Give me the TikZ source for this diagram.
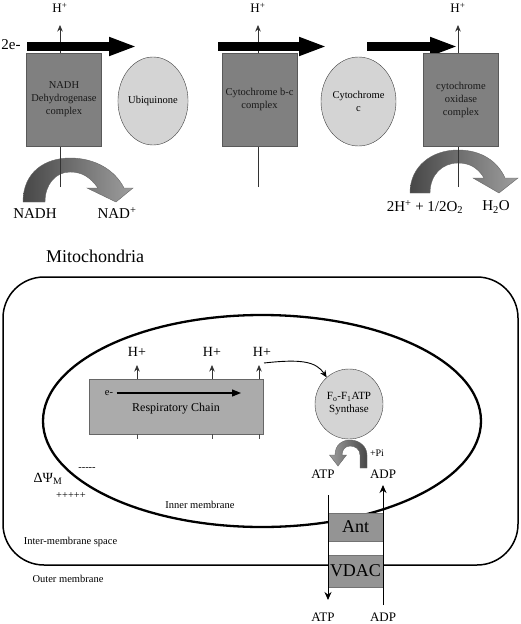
\documentclass[tikz,border=0pt]{standalone}
\usepackage{fontspec}
\setmainfont{Liberation Serif}
\usepackage{tikz}
\usetikzlibrary{arrows.meta}
\usetikzlibrary{positioning}
\usetikzlibrary{shapes.geometric}

\begin{document}
\begin{tikzpicture}[x=1pt,y=-1pt,
		cplx/.style={draw=black!65, fill=black!50, text=black!90, minimum width=75pt, minimum height=93pt,
			inner sep=1pt, align=center, font=\fontsize{10.5}{13}\selectfont},
		carrier/.style={ellipse, draw=black!75, fill=black!17, inner sep=0pt, align=center,
			font=\fontsize{10.5}{13}\selectfont},
		porter/.style={fill=black!42, draw=black!55, minimum width=55pt, inner sep=0pt,
			font=\fontsize{18}{20}\selectfont},
		eflow/.style={line width=8.5pt, -{Triangle[length=28pt,width=17pt]}},
		hout/.style={draw=black!80, line width=0.7pt, -{Stealth[length=6.5pt,width=5.5pt]}},
		bigl/.style={font=\fontsize{15}{17}\selectfont},
		midl/.style={font=\fontsize{13}{15}\selectfont},
		smll/.style={font=\fontsize{10.5}{12}\selectfont},
		turnarrow/.style={draw=black!60, line width=0.4pt, left color=black!72, right color=black!38}]
		\useasboundingbox (0,0) rectangle (520,624);
		% top: electron transport chain
		\node[bigl] (twoe) at (11,45) {2e-};
		\shadedraw[turnarrow]
			(23,202) .. controls (23,172) and (45,158) .. (70,158)
			.. controls (95,158) and (115,170) .. (124,188) -- (133,188) -- (116,202) -- (87,188) -- (98,188)
			.. controls (90,177) and (82,172) .. (70,172)
			.. controls (55,172) and (45,185) .. (45,202) -- cycle;
		\shadedraw[turnarrow]
			(410,193) .. controls (410,166) and (432,150) .. (458,150)
			.. controls (482,150) and (498,162) .. (505,178) -- (518,178) -- (499,193) -- (473,178) -- (484,178)
			.. controls (478,168) and (470,163) .. (458,163)
			.. controls (442,163) and (430,175) .. (430,193) -- cycle;
		\foreach \x [count=\i] in {60,258,458} {
			\coordinate (pb\i) at (\x,187);
			\coordinate (pt\i) at (\x,25);
			\draw[hout] (pb\i) -- (pt\i);
			\node[midl] (hp\i) at (\x,8) {H\textsuperscript{+}};
		}
		\coordinate (e1s) at (27,46.5);  \coordinate (e1t) at (137,46.5);
		\coordinate (e2s) at (218,46.5); \coordinate (e2t) at (327,46.5);
		\coordinate (e3s) at (367,46.5); \coordinate (e3t) at (458,46.5);
		\draw[eflow] (e1s) -- (e1t);
		\draw[eflow] (e2s) -- (e2t);
		\draw[eflow] (e3s) -- (e3t);
		\node[cplx] (nadh) at (64,99.5) {NADH\\Dehydrogenase\\complex};
		\node[carrier, minimum width=66pt, minimum height=88pt] (ubq) at (153,101) {Ubiquinone};
		\node[cplx] (bc) at (259.5,99.5) {Cytochrome b-c\\complex};
		\node[carrier, minimum width=75pt, minimum height=89pt] (cytc) at (358.5,101.5) {Cytochrome\\c};
		\node[cplx] (cox) at (461,99.5) {cytochrome\\oxidase\\complex};
		\node[bigl] (nadhl) at (35,214) {NADH};
		\node[bigl] (nadl) at (117,213) {NAD\textsuperscript{+}};
		\node[bigl] (oxl) at (425,207) {2H\textsuperscript{+} + 1/2O\textsubscript{2}};
		\node[bigl] (h2ol) at (496,207) {H\textsubscript{2}O};
		% bottom: mitochondrion
		\node[font=\fontsize{18}{20}\selectfont] (mito) at (95,256) {Mitochondria};
		\draw[line width=1.5pt, rounded corners=41pt] (3,277) rectangle (518,565);
		\draw[line width=2.3pt] (262,421) ellipse [x radius=219, y radius=106];
		\node[fill=black!33, draw=black!60, minimum width=174pt, minimum height=55pt] (resp) at (176,406.5) {};
		\node[smll] (el) at (109,393) {e-};
		\coordinate (eend) at (241,393);
		\draw[line width=1.2pt, -{Triangle[length=9pt,width=7pt]}] (el.east) -- (eend);
		\node[font=\fontsize{12}{14}\selectfont] (rcl) at (176,409) {Respiratory Chain};
		\foreach \x/\lx [count=\i] in {137/137,212/212,259/262} {
			\coordinate (rb\i) at (\x,379);
			\coordinate (rt\i) at (\x,365);
			\draw[hout] (rb\i) -- (rt\i);
			\draw[black!70, line width=0.7pt] (\x,434) -- (\x,439);
			\node[font=\fontsize{14}{16}\selectfont] (rh\i) at (\lx,352) {H+};
		}
		\node[carrier, minimum width=68pt, minimum height=70pt, font=\fontsize{11}{13}\selectfont] (atps) at (349,404)
			{F\textsubscript{o}-F\textsubscript{1}ATP\\Synthase};
		\coordinate (hsrc) at (264,363);
		\draw[line width=0.9pt, -{Stealth[length=7pt,width=6pt]}] (hsrc) .. controls (300,359) and (316,361) .. (atps.130);
		\shadedraw[draw=black!60, line width=0.4pt, left color=black!38, right color=black!72]
			(360,468) -- (360,455) .. controls (360,449) and (355,446) .. (350,446)
			.. controls (345,446) and (342,450) .. (342,455) -- (346.5,455) -- (338,466) -- (329.5,455) -- (335,455)
			.. controls (335,445) and (342,440) .. (350,440) .. controls (360,440) and (367,447) .. (367,455)
			-- (367,468) -- cycle;
		\node[font=\fontsize{10}{12}\selectfont] (pil) at (377,453) {+Pi};
		\node[midl] (atpin) at (323,474) {ATP};
		\node[midl] (adpin) at (383,474) {ADP};
		\node[porter, minimum height=28pt] (ant) at (355.5,527) {Ant};
		\node[porter, minimum height=32pt] (vdac) at (355.5,571) {VDAC};
		\coordinate (atpa) at (328,495); \coordinate (atpb) at (328,600);
		\coordinate (adpa) at (383,605); \coordinate (adpb) at (383,485);
		\draw[line width=1pt, -{Stealth[length=8pt,width=7pt]}] (atpa) -- (atpb);
		\draw[line width=1pt, -{Stealth[length=8pt,width=7pt]}] (adpa) -- (adpb);
		\node[midl] (atpout) at (323,617) {ATP};
		\node[midl] (adpout) at (383,617) {ADP};
		\node[font=\fontsize{14}{16}\selectfont] (psi) at (48,479) {ΔΨ\textsubscript{M}};
		\node[smll] (minus) at (87,469) {{-}{-}{-}{-}{-}};
		\node[smll] (plus) at (71,496) {+++++};
		\node[smll] (inm) at (200,505) {Inner membrane};
		\node[smll] (ims) at (70.5,542) {Inter-membrane space};
		\node[smll] (outm) at (68,579) {Outer membrane};
	\end{tikzpicture}
\end{document}
